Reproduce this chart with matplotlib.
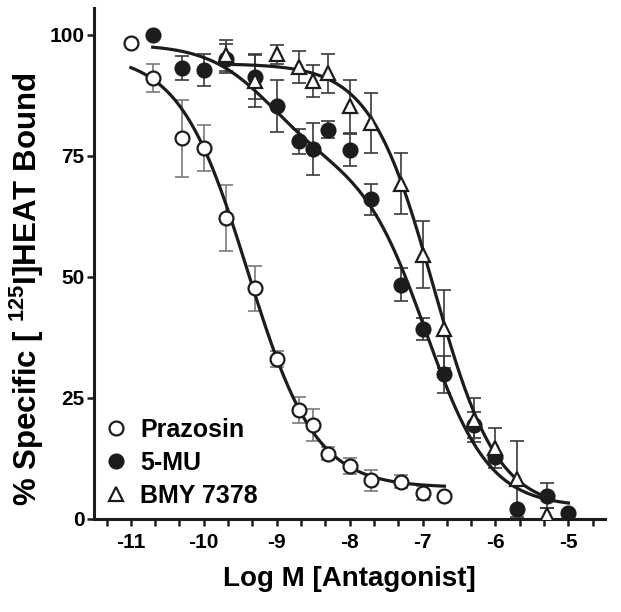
import matplotlib
matplotlib.use('Agg')
import matplotlib.pyplot as plt
import numpy as np
from matplotlib.ticker import MultipleLocator

plt.rcParams['font.family'] = ['Liberation Sans', 'DejaVu Sans']
plt.rcParams['font.weight'] = 'bold'
plt.rcParams['axes.unicode_minus'] = False
plt.rcParams['mathtext.fontset'] = 'custom'
plt.rcParams['mathtext.rm'] = 'Liberation Sans:bold'
plt.rcParams['mathtext.bf'] = 'Liberation Sans:bold'

# Prazosin (open circles)
praz_x = [-11, -10.7, -10.3, -10, -9.7, -9.3, -9, -8.7, -8.5, -8.3, -8, -7.7, -7.3, -7, -6.7]
praz_y = [98.3, 91.1, 78.6, 76.6, 62.1, 47.6, 33.0, 22.5, 19.5, 13.5, 10.9, 8.0, 7.7, 5.4, 4.8]
praz_err = [0, 2.9, 7.9, 4.8, 6.8, 4.7, 1.6, 2.6, 3.3, 1.4, 1.6, 2.2, 1.4, 1.5, 0]

# 5-MU (filled circles)
mu_x = [-10.7, -10.3, -10, -9.7, -9.3, -9, -8.7, -8.5, -8.3, -8, -7.7, -7.3, -7, -6.7,
        -6.3, -6, -5.7, -5.3, -5]
mu_y = [99.9, 93.1, 92.7, 95.0, 91.2, 85.2, 78.0, 76.4, 80.4, 76.1, 66.0, 48.4, 39.2, 29.9,
        19.4, 12.7, 2.0, 4.8, 1.3]
mu_err = [0, 2.5, 3.3, 3.0, 4.5, 5.4, 2.6, 5.4, 1.8, 3.3, 3.2, 3.5, 2.3, 3.8,
          2.7, 1.0, 0, 2.6, 0]

# BMY 7378 (open triangles)
bmy_x = [-9.7, -9.3, -9, -8.7, -8.5, -8.3, -8, -7.7, -7.3, -7, -6.7, -6.3, -6, -5.7, -5.3]
bmy_y = [95.7, 90.5, 95.9, 93.3, 90.5, 92.0, 85.2, 81.7, 69.2, 54.6, 39.2, 20.4, 14.6, 8.2, 0.8]
bmy_err = [3.2, 5.4, 1.9, 3.3, 3.3, 4.0, 5.5, 6.2, 6.3, 6.9, 8.0, 4.5, 4.1, 7.8, 1.4]

# fitted curves: (top, bottom, logIC50, hill) ; 5-MU two-site (top, bottom, frac, logIC50_1, logIC50_2)
praz_fit = [96, 6.5, -9.4, 0.93]
mu_fit = [98, 2.5, 0.25, -9.1, -6.95]
bmy_fit = [94, 2, -6.85, 1.0]


def one_site(x, top, bottom, logic50, hill):
    return bottom + (top - bottom) / (1 + 10 ** ((x - logic50) * hill))


def two_site(x, top, bottom, frac, lo1, lo2):
    f = frac / (1 + 10 ** (x - lo1)) + (1 - frac) / (1 + 10 ** (x - lo2))
    return bottom + (top - bottom) * f


fig = plt.figure(figsize=(6.21, 6.12), dpi=100)
ax = fig.add_axes([0.152, 0.152, 0.822, 0.835])

ink = '#1c1c1c'
ekw = dict(fmt='none', capsize=4.7, elinewidth=1.2, capthick=1.2, zorder=2)
ax.errorbar(praz_x, praz_y, yerr=praz_err, ecolor='#7a7a7a', **ekw)
ax.errorbar(mu_x, mu_y, yerr=mu_err, ecolor='#3a3a3a', **ekw)
ax.errorbar(bmy_x, bmy_y, yerr=bmy_err, ecolor='#3a3a3a', **ekw)

xs = np.linspace(praz_x[0], praz_x[-1], 300)
ax.plot(xs, one_site(xs, *praz_fit), color=ink, lw=2.3, zorder=3)
xs = np.linspace(mu_x[0], mu_x[-1], 300)
ax.plot(xs, two_site(xs, *mu_fit), color=ink, lw=2.3, zorder=3)
xs = np.linspace(bmy_x[0], bmy_x[-1], 300)
ax.plot(xs, one_site(xs, *bmy_fit), color=ink, lw=2.3, zorder=3)

ax.plot(praz_x, praz_y, 'o', ms=10, mfc='white', mec=ink, mew=1.6, ls='none',
        zorder=4, label='Prazosin')
ax.plot(mu_x, mu_y, 'o', ms=10, mfc=ink, mec=ink, mew=1.6, ls='none',
        zorder=4, label='5-MU')
ax.plot(bmy_x, bmy_y, '^', ms=10.5, mfc='white', mec=ink, mew=1.6, ls='none',
        zorder=4, label='BMY 7378')

ax.set_xlim(-11.5, -4.5)
ax.set_ylim(0, 105.5)
ax.xaxis.set_major_locator(MultipleLocator(1))
ax.xaxis.set_minor_locator(MultipleLocator(1 / 3))
ax.set_yticks([0, 25, 50, 75, 100])

for side in ['top', 'right']:
    ax.spines[side].set_visible(False)
for side in ['left', 'bottom']:
    ax.spines[side].set_linewidth(2.2)
    ax.spines[side].set_color(ink)

ax.tick_params(which='both', direction='out', width=1.8, color=ink)
ax.tick_params(which='major', length=5, labelsize=15, pad=2)
ax.tick_params(which='minor', length=5)
ax.tick_params(axis='x', pad=5)

ax.set_xlabel('Log M [Antagonist]', fontsize=20, fontweight='bold', labelpad=10)
ax.set_ylabel('% Specific [ $^{125}$I]HEAT Bound', fontsize=22.5, fontweight='bold')
ax.yaxis.set_label_coords(-0.095, 0.45)

ax.legend(loc='lower left', bbox_to_anchor=(-0.016, -0.012), frameon=False,
          handlelength=1.0, handletextpad=0.45, labelspacing=0.35,
          borderpad=0.2, prop={'weight': 'bold', 'size': 18})

fig.savefig('out.png', dpi=100)
